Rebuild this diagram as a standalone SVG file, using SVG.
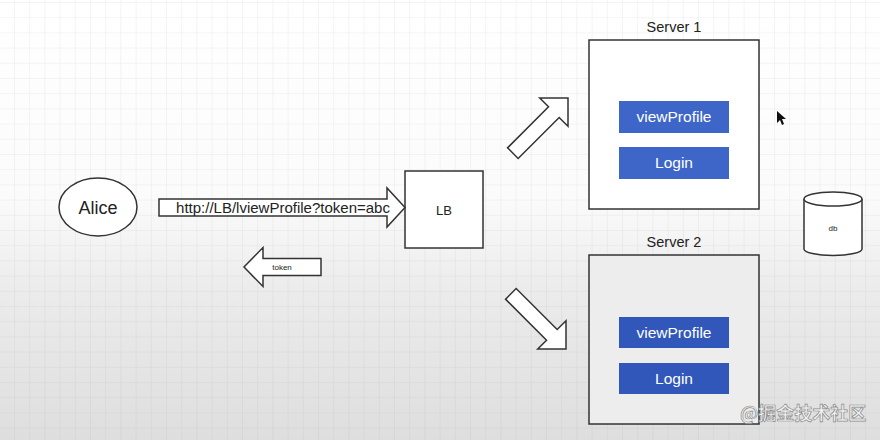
<svg xmlns="http://www.w3.org/2000/svg" width="880" height="440" viewBox="0 0 880 440">
  <defs>
    <linearGradient id="bg" x1="0" y1="0" x2="0" y2="1">
      <stop offset="0" stop-color="#ffffff"/>
      <stop offset="0.45" stop-color="#fbfbfb"/>
      <stop offset="0.65" stop-color="#ececec"/>
      <stop offset="1" stop-color="#dedede"/>
    </linearGradient>
    <pattern id="grid" x="14" y="2" width="15.2" height="15.2" patternUnits="userSpaceOnUse">
      <path d="M0,0 V15.2 M0,0 H15.2" fill="none" stroke="#8a8a8a" stroke-opacity="0.18" stroke-width="1"/>
    </pattern>
    <style>
      .ln { fill: #ffffff; stroke: #333333; stroke-width: 1.5; }
      .srv { stroke: #333333; stroke-width: 1.5; }
      .arr { fill: #ffffff; stroke: #333333; stroke-width: 1.5; stroke-linejoin: miter; }
      .t { font-family: "Liberation Sans", Arial, sans-serif; fill: #222222; text-anchor: middle; }
      .btn { stroke: none; }
      .bt { font-family: "Liberation Sans", Arial, sans-serif; fill: #ffffff; text-anchor: middle; font-size: 15.5px; }
    </style>
  </defs>

  <rect width="880" height="440" fill="url(#bg)"/>
  <rect width="880" height="440" fill="url(#grid)"/>

  <g id="alice">
    <ellipse class="ln" cx="98" cy="207" rx="39" ry="29"/>
    <text class="t" x="98" y="214" font-size="18">Alice</text>
  </g>

  <g id="lb">
    <rect class="ln" x="405" y="171" width="78" height="77"/>
    <text class="t" x="444" y="215" font-size="13">LB</text>
  </g>

  <g id="server1">
    <text class="t" x="674" y="32" font-size="14.5">Server 1</text>
    <rect class="srv" x="589" y="40" width="170" height="169" fill="#ffffff"/>
    <rect class="btn" x="619" y="101" width="110" height="32" fill="#3d66c8"/>
    <text class="bt" x="674" y="122">viewProfile</text>
    <rect class="btn" x="619" y="147" width="110" height="32" fill="#3d66c8"/>
    <text class="bt" x="674" y="168">Login</text>
  </g>

  <g id="server2">
    <text class="t" x="674" y="247" font-size="14.5">Server 2</text>
    <rect class="srv" x="589" y="255" width="170" height="169" fill="#ededed"/>
    <rect class="btn" x="619" y="317" width="110" height="31" fill="#3157bb"/>
    <text class="bt" x="674" y="338">viewProfile</text>
    <rect class="btn" x="619" y="363" width="110" height="31" fill="#3157bb"/>
    <text class="bt" x="674" y="384">Login</text>
  </g>

  <g id="db">
    <path class="ln" d="M804,199 V249 A29,6.5 0 0 0 862,249 V199"/>
    <ellipse class="ln" cx="833" cy="199" rx="29" ry="7"/>
    <text class="t" x="833" y="231" font-size="8">db</text>
  </g>

  <g id="connectors">
    <g transform="translate(405,207.5)">
      <polygon class="arr" points="0,0 -18,-19.5 -18,-8.5 -246,-8.5 -246,8.5 -18,8.5 -18,19.5"/>
    </g>
    <text class="t" x="283" y="213" font-size="15">http://LB/lviewProfile?token=abc</text>
    <g transform="translate(244,267) rotate(180)">
      <polygon class="arr" points="0,0 -19,-19.5 -19,-8.5 -77,-8.5 -77,8.5 -19,8.5 -19,19.5"/>
    </g>
    <text class="t" x="282" y="270" font-size="8">token</text>
    <g transform="translate(568,98) rotate(-45)">
      <polygon class="arr" points="0,0 -20,-20 -20,-7.5 -78,-7.5 -78,7.5 -20,7.5 -20,20"/>
    </g>
    <g transform="translate(566,349) rotate(45)">
      <polygon class="arr" points="0,0 -20,-20 -20,-7.5 -78,-7.5 -78,7.5 -20,7.5 -20,20"/>
    </g>
  </g>

  <polygon points="777,111 777,123 780,120 782,125 784,124 782,119 786,119" fill="#111111"/>

  <text x="740" y="420" font-family="'Noto Sans CJK SC', 'Liberation Sans', sans-serif" font-size="18" font-weight="bold" fill="#f2f2f2" stroke="#8a8a8a" stroke-width="0.7">@掘金技术社区</text>
</svg>
